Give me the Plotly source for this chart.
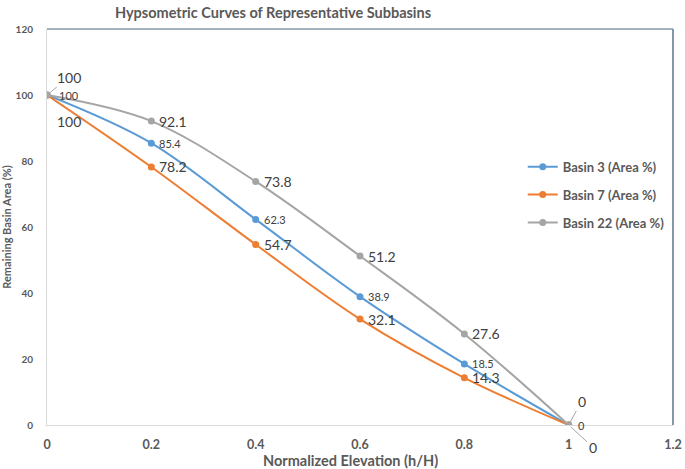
import plotly.graph_objects as go

elev = [0, 0.2, 0.4, 0.6, 0.8, 1.0]
basin3 = [100, 85.4, 62.3, 38.9, 18.5, 0]
basin7 = [100, 78.2, 54.7, 32.1, 14.3, 0]
basin22 = [100, 92.1, 73.8, 51.2, 27.6, 0]

names = ["Basin 3 (Area %)", "Basin 7 (Area %)", "Basin 22 (Area %)"]
series = [basin3, basin7, basin22]
colors = ["#5B9BD5", "#ED7D31", "#A5A5A5"]
label_sizes = [11, 14, 14]

FONT = "Lato"
TXT = "#404040"

fig = go.Figure()
for i, (nm, ys, c) in enumerate(zip(names, series, colors)):
    fig.add_trace(go.Scatter(
        x=elev, y=ys, name=nm, mode="lines+markers",
        line=dict(color=c, width=2, shape="spline", smoothing=1.0),
        marker=dict(color=c, size=7),
        legendgroup=nm,
    ))

annotations = []
# endpoint label placement (pixel offsets): (dx, dy, leader)
end_offsets = {
    0: {0: (22, 0, False), 1: (22, 26, False), 2: (22, -18, True)},
    5: {0: (13, 0, False), 1: (24, 22, True), 2: (13, -24, True)},
}
for i, ys in enumerate(series):
    for j, (xv, yv) in enumerate(zip(elev, ys)):
        txt = f"{yv:g}"
        f = dict(family=FONT, size=label_sizes[i], color=TXT)
        if j in end_offsets:
            dx, dy, leader = end_offsets[j][i]
            if leader:
                annotations.append(dict(
                    x=xv, y=yv, xref="x", yref="y", text=txt, font=f,
                    showarrow=True, arrowhead=0, arrowwidth=1, arrowcolor="#A6A6A6",
                    ax=dx, ay=dy, standoff=3))
            else:
                annotations.append(dict(
                    x=xv, y=yv, xref="x", yref="y", text=txt, font=f,
                    showarrow=False, xshift=dx, yshift=-dy))
        else:
            annotations.append(dict(
                x=xv, y=yv, xref="x", yref="y", text=txt, font=f,
                showarrow=False, xanchor="left", xshift=6))

# x-axis title as annotation (slightly left of plot centre, as in the original)
annotations.append(dict(
    text="<b>Normalized Elevation (h/H)</b>", xref="paper", yref="paper",
    x=(350 - 47) / 626, y=(425 - 460) / 396, xanchor="center", yanchor="middle",
    showarrow=False, font=dict(family=FONT, size=14.5, color="#595959")))

fig.update_layout(
    width=685, height=469,
    margin=dict(l=47, r=12, t=29, b=44),
    paper_bgcolor="white", plot_bgcolor="white",
    font=dict(family=FONT, color="#595959"),
    title=dict(text="<b>Hypsometric Curves of Representative Subbasins</b>",
               x=273/685, xanchor="center", y=1 - 13/469, yanchor="middle",
               font=dict(family=FONT, size=14.5, color="#595959")),
    showlegend=True,
    legend=dict(x=0.760, y=0.69, xanchor="left", yanchor="top",
                font=dict(family=FONT, size=13, color="#595959", weight="bold"),
                tracegroupgap=8, bgcolor="rgba(0,0,0,0)", itemwidth=30),
    annotations=annotations,
    shapes=[
        dict(type="line", xref="paper", yref="paper", x0=0, x1=1, y0=1, y1=1,
             line=dict(color="#8497A6", width=1.5)),
        dict(type="line", xref="paper", yref="paper", x0=1, x1=1, y0=0, y1=1,
             line=dict(color="#8497A6", width=2)),
    ],
)
fig.update_xaxes(
    range=[0, 1.2], tickvals=[0, 0.2, 0.4, 0.6, 0.8, 1, 1.2],
    ticktext=["0", "0.2", "0.4", "0.6", "0.8", "1", "1.2"],
    showgrid=False, zeroline=False, showline=True, linecolor="#D9D9D9", linewidth=1,
    ticks="", automargin=False, ticklabelstandoff=8,
    tickfont=dict(family=FONT, size=12.5, color="#595959", weight="bold"),
)
fig.update_yaxes(
    range=[0, 120], tickvals=[0, 20, 40, 60, 80, 100, 120],
    showgrid=False, zeroline=False, showline=True, linecolor="#D9D9D9", linewidth=1,
    ticks="", ticklabelstandoff=11, automargin=False,
    tickfont=dict(family=FONT, size=10, color="#595959", weight="bold"),
    title=dict(text="<b>Remaining Basin Area (%)</b>", standoff=4,
               font=dict(family=FONT, size=11, color="#595959")),
)
fig.write_html("out.html")
